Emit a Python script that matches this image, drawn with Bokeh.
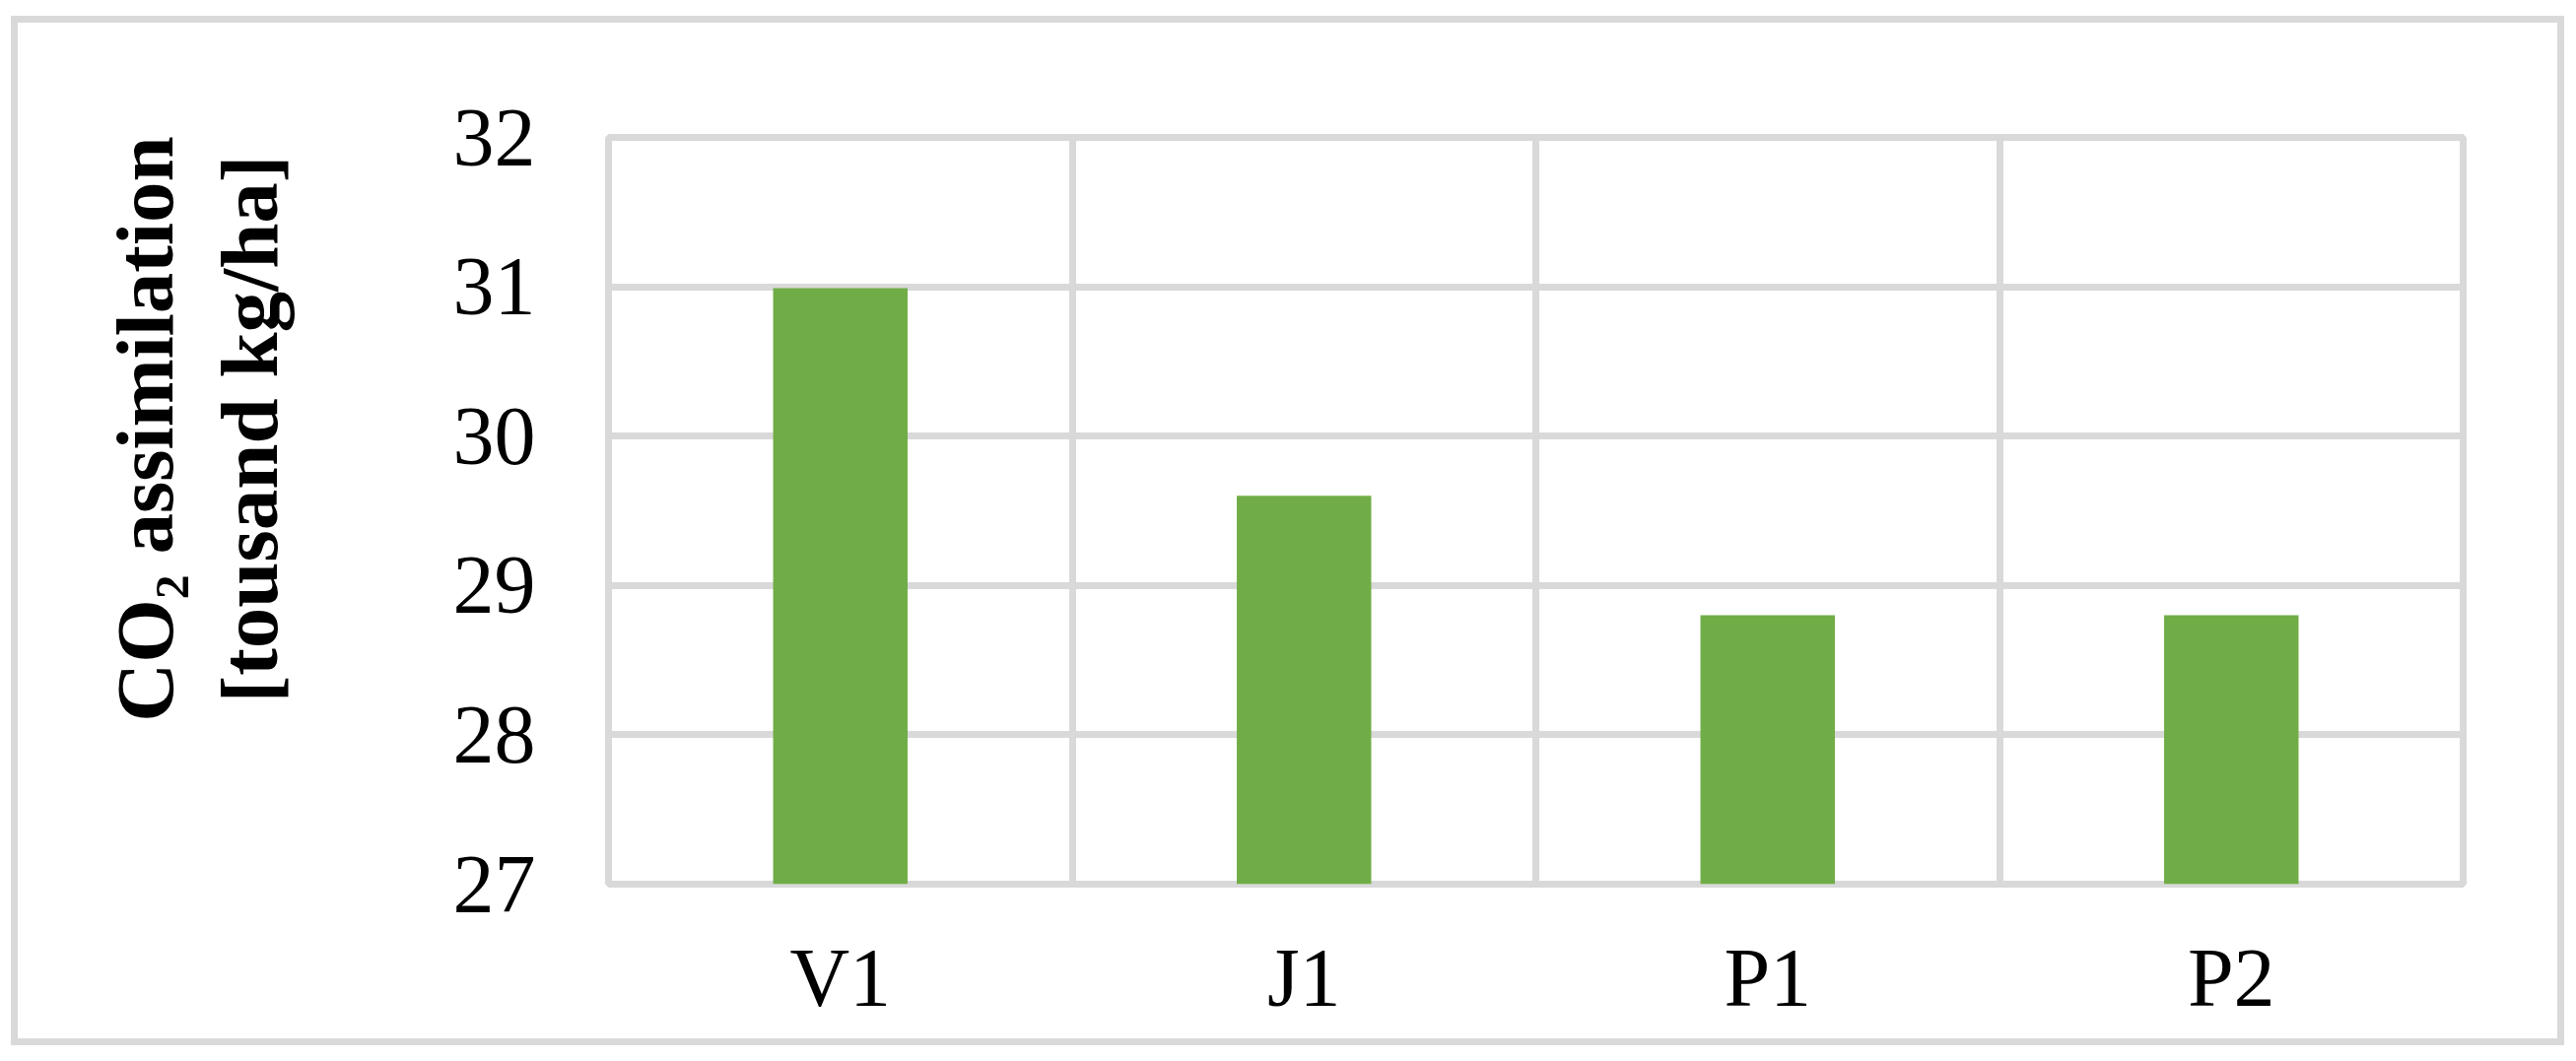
from bokeh.plotting import figure
from bokeh.models import Range1d, FactorRange, FixedTicker, LinearAxis
from bokeh.embed import file_html
from bokeh.resources import INLINE

# ---- data ----
categories = ["V1", "J1", "P1", "P2"]
co2_values = [30.99, 29.6, 28.8, 28.8]
y_ticks = [27, 28, 29, 30, 31, 32]
y_min, y_max = 27, 32
y_title_lines = ["CO\u2082 assimilation", "[tousand kg/ha]"]

GRID = "#D9D9D9"
GREEN = "#70AD47"
FONT = "Liberation Serif"

W, H = 2610, 1070
FL, FT, FW, FH = 617, 139, 1882, 758

p = figure(
    x_range=FactorRange(*categories),
    y_range=Range1d(y_min, y_max),
    width=W, height=H,
    min_border_left=FL, min_border_right=W - FL - FW,
    min_border_top=FT, min_border_bottom=H - FT - FH,
    output_backend="svg", toolbar_location=None,
    background_fill_color="white", border_fill_color=None,
)

# outer chart border drawn as host-element background
bar = "linear-gradient(#D9D9D9,#D9D9D9)"
p.styles = {
    "background-color": "white",
    "background-image": ", ".join([bar] * 4),
    "background-repeat": "no-repeat",
    "background-position": "11px 16px, 11px 16px, 2595px 16px, 11px 1054px",
    "background-size": "7px 1045px, 2591px 7px, 7px 1045px, 2591px 7px",
}

p.vbar(x=categories, top=co2_values, bottom=y_min, width=0.29,
       fill_color=GREEN, line_color=None)

# frame outline
p.outline_line_color = GRID
p.outline_line_width = 7

# grids
p.ygrid.ticker = FixedTicker(ticks=y_ticks)
p.ygrid.grid_line_color = GRID
p.ygrid.grid_line_width = 7
p.xgrid.ticker = FixedTicker(ticks=list(range(len(categories) + 1)))
p.xgrid.grid_line_color = GRID
p.xgrid.grid_line_width = 7

# y axis
p.yaxis.ticker = FixedTicker(ticks=y_ticks)
p.yaxis.axis_line_color = None
p.yaxis.major_tick_line_color = None
p.yaxis.minor_tick_line_color = None
p.yaxis.major_tick_out = 0
p.yaxis.major_label_standoff = 74
p.yaxis.major_label_text_font = FONT
p.yaxis.major_label_text_font_size = "84px"
p.yaxis.major_label_text_color = "black"

# x axis
p.xaxis.axis_line_color = None
p.xaxis.major_tick_line_color = None
p.xaxis.minor_tick_line_color = None
p.xaxis.major_tick_out = 0
p.xaxis.major_label_standoff = 48
p.xaxis.major_label_text_font = FONT
p.xaxis.major_label_text_font_size = "84px"
p.xaxis.major_label_text_color = "black"

# y-axis title on a label-only axis; leading em spaces shift the centred
# block upward as in the original
lead = "\u2003\u2003"
title_axis = LinearAxis(
    ticker=FixedTicker(ticks=[]),
    axis_label="\n".join(lead + s for s in y_title_lines),
)
title_axis.axis_line_color = None
title_axis.major_tick_line_color = None
title_axis.minor_tick_line_color = None
title_axis.major_tick_out = 0
title_axis.major_tick_in = 0
title_axis.axis_label_standoff = 158
title_axis.axis_label_text_font = FONT
title_axis.axis_label_text_font_style = "bold"
title_axis.axis_label_text_font_size = "83px"
title_axis.axis_label_text_line_height = 1.145
title_axis.axis_label_text_color = "black"
p.add_layout(title_axis, "left")

open("out.html", "w").write(file_html(p, INLINE))
